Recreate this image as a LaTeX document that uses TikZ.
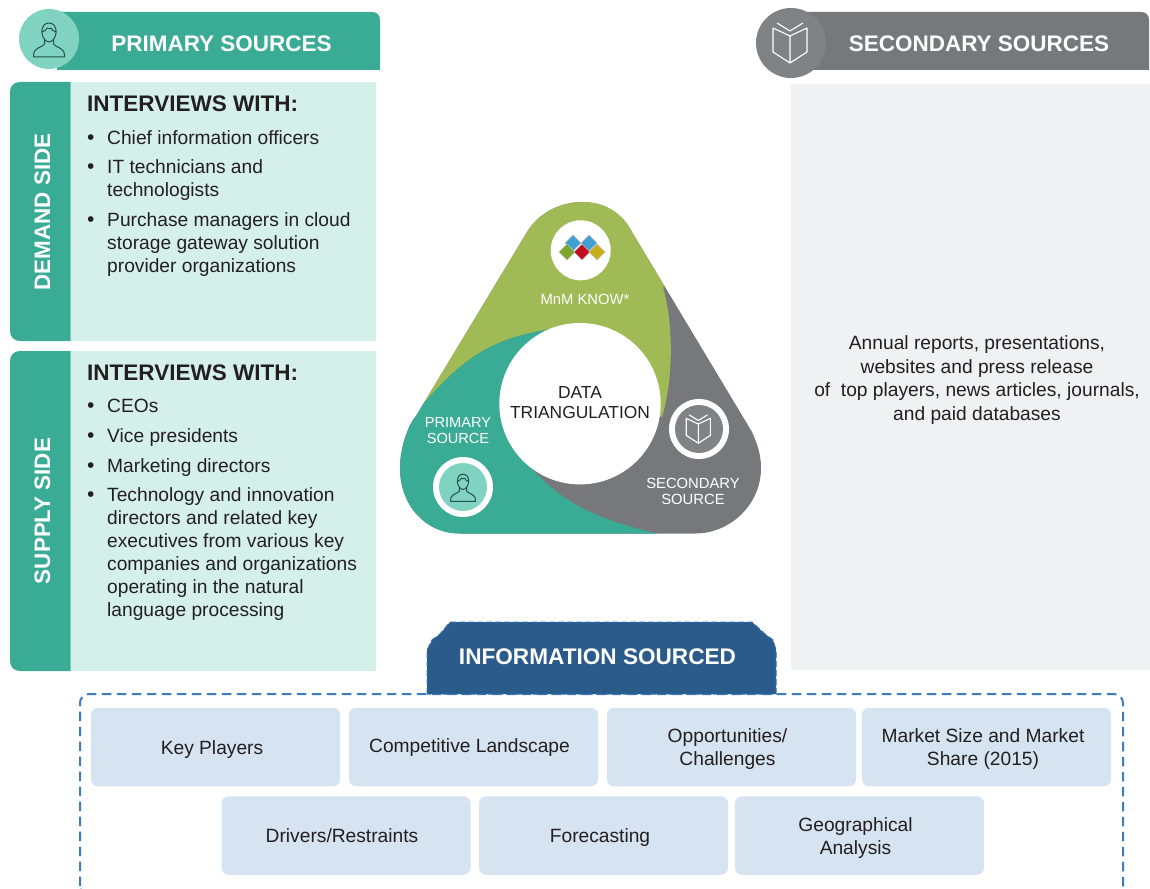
\documentclass[tikz,border=0pt]{standalone}
\usepackage{fontspec}
\setmainfont{Liberation Sans}
\definecolor{teal1}{HTML}{3AAB94}
\definecolor{mint}{HTML}{80D3BF}
\definecolor{pale}{HTML}{D5F0EA}
\definecolor{gray1}{HTML}{77787B}
\definecolor{gray2}{HTML}{808285}
\definecolor{panel}{HTML}{F0F1F3}
\definecolor{olive}{HTML}{A0BB55}
\definecolor{navy}{HTML}{2A5B8B}
\definecolor{boxblue}{HTML}{D6E3F1}
\definecolor{dashblue}{HTML}{3B7DBF}
\definecolor{ink}{HTML}{231F20}
\definecolor{iconink}{HTML}{264F4F}
\tikzset{
  body/.style={inner sep=0pt,anchor=base west,text=ink,font=\fontsize{19.2}{23.5}\selectfont},
  bul/.style={inner sep=0pt,anchor=base west,text=ink,font=\fontsize{21}{23.5}\selectfont},
  head/.style={inner sep=0pt,anchor=base west,text=ink,font=\bfseries\fontsize{22.5}{27}\selectfont},
  banner/.style={inner sep=0pt,text=white,font=\bfseries\fontsize{22.5}{27}\selectfont},
  sidetab/.style={inner sep=0pt,text=white,rotate=90,font=\bfseries\fontsize{22.4}{27}\selectfont},
  infobox/.style={fill=boxblue,rounded corners=7pt,minimum width=249pt,minimum height=78.5pt,inner sep=0pt},
  infotext/.style={inner sep=0pt,align=center,text=ink,font=\fontsize{19.2}{23.5}\selectfont},
  tri/.style={inner sep=0pt,align=center,text=white,font=\fontsize{14.8}{16}\selectfont},
  ring/.style={fill=white},
  personicon/.pic={
    \draw[line width=1pt,draw=iconink,line join=round]
      (-7,-6) .. controls (-7.5,-13) and (-4,-16) .. (0,-16) .. controls (4,-16) and (7.5,-13) .. (7,-6)
      .. controls (6.5,-1) and (3,3) .. (0,3) .. controls (-3,3) and (-6.5,-1) .. (-7,-6) -- cycle
      (-7,-7) .. controls (-4,-7) and (-3,-10) .. (-2,-11) .. controls (-1,-10) and (1,-10) .. (2,-11) .. controls (3,-10) and (4,-7) .. (7,-7)
      (-4.5,1) -- (-4.5,5) .. controls (-7,9) and (-15.5,8) .. (-15.5,16.5) -- (-15.5,18) -- (15.5,18) -- (15.5,16.5) .. controls (15.5,8) and (7,9) .. (4.5,5) -- (4.5,1);
  },
  bookicon/.pic={
    \draw[line width=1.1pt,draw=white,line join=round]
      (-1,-7) -- (-18,-15) -- (-18,9) -- (-1,20) -- (16,9) -- (16,-15) -- (-1,-7) -- (-1,20)
      (-14,-20) -- (-1,-12) -- (12,-20);
  }
}
\begin{document}
\begin{tikzpicture}[x=1pt,y=-1pt]
\useasboundingbox (0,0) rectangle (1150,888);
% headers
\fill[teal1] (57,70) -- (57,12) -- (372,12) .. controls (377,12) and (380,15) .. (380,20) -- (380,70) -- cycle;
\fill[mint] (49,39) circle (30);
\pic at (49,39) {personicon};
\node[banner] (primaryhead) at (221.5,44) {PRIMARY SOURCES};
\fill[gray1] (791,12) -- (1141,12) .. controls (1146,12) and (1149,15) .. (1149,20) -- (1149,70) -- (791,70) -- cycle;
\fill[gray2] (791,43) circle (35);
\pic at (791,43) {bookicon};
\node[banner] (secondaryhead) at (979,44) {SECONDARY SOURCES};
% left panels
\fill[pale] (71,82) rectangle (376,341);
\fill[pale] (71,351) rectangle (376,671);
\fill[teal1] (70.5,82) -- (20,82) .. controls (14,82) and (10,86) .. (10,92) -- (10,331) .. controls (10,337) and (14,341) .. (20,341) -- (70.5,341) -- cycle;
\fill[teal1] (70.5,351) -- (20,351) .. controls (14,351) and (10,355) .. (10,361) -- (10,661) .. controls (10,667) and (14,671) .. (20,671) -- (70.5,671) -- cycle;
\node[sidetab] (demand) at (42.5,212) {DEMAND SIDE};
\node[sidetab] (supply) at (42.5,511) {SUPPLY SIDE};
\node[head] (dh) at (87,111.5) {INTERVIEWS WITH:};
\node[bul] (db1) at (87,144) {•};
\node[body] (d1) at (107,144) {Chief information officers};
\node[bul] (db2) at (87,173) {•};
\node[body] (d2) at (107,173) {IT technicians and};
\node[body] (d3) at (107,196) {technologists};
\node[bul] (db3) at (87,226) {•};
\node[body] (d4) at (107,226) {Purchase managers in cloud};
\node[body] (d5) at (107,249) {storage gateway solution};
\node[body] (d6) at (107,272) {provider organizations};
\node[head] (sh) at (87,380) {INTERVIEWS WITH:};
\node[bul] (sb1) at (87,412) {•};
\node[body] (s1) at (107,412) {CEOs};
\node[bul] (sb2) at (87,442) {•};
\node[body] (s2) at (107,442) {Vice presidents};
\node[bul] (sb3) at (87,472) {•};
\node[body] (s3) at (107,472) {Marketing directors};
\node[bul] (sb4) at (87,501) {•};
\node[body] (s4) at (107,501) {Technology and innovation};
\node[body] (s5) at (107,524) {directors and related key};
\node[body] (s6) at (107,547) {executives from various key};
\node[body] (s7) at (107,570) {companies and organizations};
\node[body] (s8) at (107,593) {operating in the natural};
\node[body] (s9) at (107,616) {language processing};
% right panel
\fill[panel] (791,84) rectangle (1150,670);
\node[body,anchor=center,align=center] (sectext) at (977,380) {Annual reports, presentations,\\websites and press release\\of\ \ top players, news articles, journals,\\and paid databases};
% triangle
\begin{scope}
\clip (527,232) .. controls (537,215) and (558,202) .. (582,202) .. controls (605,202) and (622,213) .. (632,232)
  -- (752,432) .. controls (758,445) and (761,456) .. (761,468) .. controls (761,505) and (730,533.5) .. (695,533.5)
  -- (460,533.5) .. controls (425,533.5) and (400,505) .. (400,468) .. controls (400,448) and (408,425) .. (416,416) -- cycle;
\fill[gray1] (380,190) rectangle (780,560);
\fill[olive] (425,402) .. controls (470,350) and (500,338) .. (550,329) -- (600,400) -- (662,417)
  .. controls (672,385) and (675,330) .. (663,287) -- (700,280) -- (700,190) -- (390,190) -- (390,402) -- cycle;
\fill[teal1] (425,402) .. controls (470,350) and (500,338) .. (550,329) -- (560,400) -- (533,470)
  .. controls (570,510) and (610,522) .. (657,533.5) -- (657,560) -- (380,560) -- (380,402) -- cycle;
\end{scope}
\fill[white] (580,403.7) circle (80.7);
\node[inner sep=0pt,align=center,text=ink,font=\fontsize{17.4}{20.5}\selectfont] (center) at (580,402.5) {DATA\\TRIANGULATION};
\fill[ring] (580.7,250.3) circle (30);
\foreach \gx/\gy/\gc in {573/243/3FA0D4,589/243/3FA0D4,567/252/7CA52B,582/252/C01020,597/252/C9AE1A}{
  \definecolor{gemc}{HTML}{\gc}
  \fill[gemc,draw=gray!50,line width=.5pt] (\gx-8,\gy) -- (\gx,\gy-8) -- (\gx+8,\gy) -- (\gx,\gy+8) -- cycle;
}
\node[tri] (mnm) at (585,299) {MnM KNOW*};
\node[tri,font=\fontsize{14.6}{16}\selectfont] (prim) at (458,431) {PRIMARY\\SOURCE};
\fill[ring] (463,487) circle (30);
\fill[mint] (463,487) circle (24);
\pic[scale=.8] at (463,487) {personicon};
\fill[ring] (699,429) circle (30);
\fill[gray2] (699,429) circle (24);
\pic[scale=.71] at (699,429) {bookicon};
\node[tri] (sec) at (693,491) {SECONDARY\\SOURCE};
% information sourced
\draw[dashblue,line width=2pt,dash pattern=on 9.5pt off 5.5pt,rounded corners=9pt] (80,895) -- (80,694) -- (1123,694) -- (1123,895) -- cycle;
\draw[fill=navy,draw=dashblue!70!navy,line width=1pt,dash pattern=on 6pt off 3pt]
  (427,694) -- (427,650) -- (432,640) -- (440,634) -- (450,622) -- (752,622) -- (765,634) -- (773,640) -- (776,650) -- (776,694) -- cycle;
\node[inner sep=0pt,text=white,font=\bfseries\fontsize{22.6}{27}\selectfont] (info) at (597.5,656.5) {INFORMATION SOURCED};
\node[infobox] (b1) at (215.5,747) {};
\node[infobox] (b2) at (473.5,747) {};
\node[infobox] (b3) at (731.5,747) {};
\node[infobox] (b4) at (986.5,747) {};
\node[infobox] (b5) at (346,835.5) {};
\node[infobox] (b6) at (603.5,835.5) {};
\node[infobox] (b7) at (859.5,835.5) {};
\node[infotext] (t1) at (212,749.5) {Key Players};
\node[infotext] (t2) at (469.5,748) {Competitive Landscape};
\node[infotext] (t3) at (727.5,749) {Opportunities/\\Challenges};
\node[infotext] (t4) at (983,749) {Market Size and Market\\Share (2015)};
\node[infotext] (t5) at (342,835.5) {Drivers/Restraints};
\node[infotext] (t6) at (600,837.5) {Forecasting};
\node[infotext] (t7) at (855.5,838) {Geographical\\Analysis};
\end{tikzpicture}
\end{document}
